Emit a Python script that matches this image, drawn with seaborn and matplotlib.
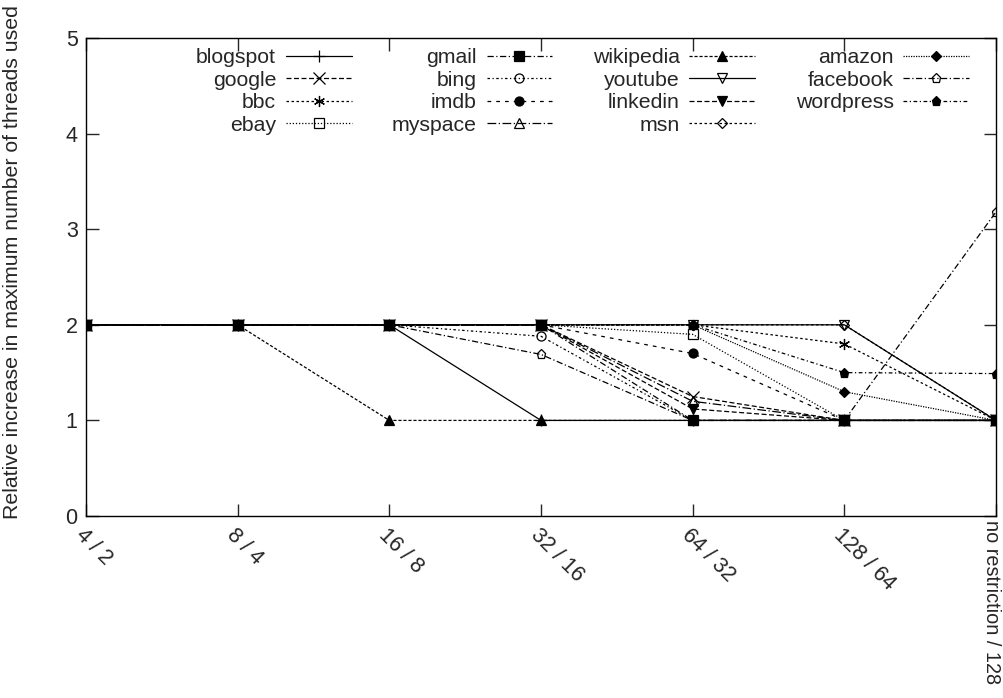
import numpy as np
import pandas as pd
import matplotlib
matplotlib.use("Agg")
import matplotlib.pyplot as plt
import matplotlib.transforms as mtransforms
import seaborn as sns

categories = ["4 / 2", "8 / 4", "16 / 8", "32 / 16", "64 / 32", "128 / 64", "no restriction / 128"]

blogspot  = [2, 2, 2, 1, 1, 1, 1]
google    = [2, 2, 2, 2, 1.25, 1, 1]
bbc       = [2, 2, 2, 2, 2, 1.8, 1]
ebay      = [2, 2, 2, 2, 1.9, 1, 1]
gmail     = [2, 2, 2, 2, 1, 1, 1]
bing      = [2, 2, 2, 1.88, 1, 1, 1]
imdb      = [2, 2, 2, 2, 1.7, 1, 1]
myspace   = [2, 2, 2, 2, 1.2, 1, 1]
wikipedia = [2, 2, 1, 1, 1, 1, 1]
youtube   = [2, 2, 2, 2, 2, 2, 1]
linkedin  = [2, 2, 2, 2, 1.12, 1, 1]
msn       = [2, 2, 2, 2, 2, 2, 1]
amazon    = [2, 2, 2, 2, 2, 1.3, 1]
facebook  = [2, 2, 2, 1.69, 1, 1, 3.18]
wordpress = [2, 2, 2, 2, 2, 1.5, 1.49]

series = [
    ("blogspot", blogspot), ("google", google), ("bbc", bbc), ("ebay", ebay),
    ("gmail", gmail), ("bing", bing), ("imdb", imdb), ("myspace", myspace),
    ("wikipedia", wikipedia), ("youtube", youtube), ("linkedin", linkedin), ("msn", msn),
    ("amazon", amazon), ("facebook", facebook), ("wordpress", wordpress),
]

# style: (dashes or None for solid, marker, filled)
styles = {
    "blogspot": (None, "+", True),
    "google": ((4, 2), "x", True),
    "bbc": ((2, 2), (6, 2, 0), True),
    "ebay": ((1, 1.5), "s", False),
    "gmail": ((5, 2, 1, 2), "s", True),
    "bing": ((2, 2, 1, 2), "o", False),
    "imdb": ((3, 4), "o", True),
    "myspace": ((7, 2, 1, 2), "^", False),
    "wikipedia": ((2.5, 1.5), "^", True),
    "youtube": (None, "v", False),
    "linkedin": ((4, 2), "v", True),
    "msn": ((2, 2), "D", False),
    "amazon": ((1, 1), "D", True),
    "facebook": ((5, 2, 1, 2), "p", False),
    "wordpress": ((3, 2, 1, 2), "p", True),
}

sns.set_style("ticks")
plt.rcParams["font.family"] = ["Liberation Sans", "DejaVu Sans"]
plt.rcParams["font.size"] = 15

fig = plt.figure(figsize=(10.04, 6.98), dpi=100)
ax = fig.add_axes([0.0857, 0.2607, 0.9063, 0.6849])

xpos = np.arange(len(categories))
for name, vals in series:
    dashes, marker, filled = styles[name]
    df = pd.DataFrame({"x": xpos, "y": vals})
    kw = dict(color="black", lw=0.9, marker=marker,
              markersize=6.5 if marker not in ("D",) else 5.5,
              markeredgecolor="black", markeredgewidth=0.9,
              markerfacecolor="black" if filled else "none")
    if marker in ("+", "x"):
        kw["markersize"] = 8
    if isinstance(marker, tuple):
        kw["markersize"] = 8
    if dashes is None:
        kw["linestyle"] = "-"
    else:
        kw["dashes"] = dashes
    sns.lineplot(data=df, x="x", y="y", ax=ax, label=name, **kw)

ax.set_xlim(0, 6)
ax.set_ylim(0, 5)
ax.set_xticks(xpos)
ax.set_xticklabels(categories)
ax.set_yticks([0, 1, 2, 3, 4, 5])
ax.set_xlabel("")
ax.set_ylabel("Relative increase in maximum number of threads used", fontsize=15.3)
ax.yaxis.set_label_coords(-0.0703, 0.531)
ax.tick_params(direction="in", length=9, width=1, top=True, right=True, labelsize=15.5, pad=6)
for i, lab in enumerate(ax.get_xticklabels()):
    lab.set_rotation_mode("anchor")
    if i == len(categories) - 1:
        lab.set_rotation(-90)
        lab.set_ha("left")
        lab.set_va("center")
        lab.set_fontsize(14.3)
        lab.set_transform(lab.get_transform() +
                          mtransforms.ScaledTranslation(-3 / 72, 3 / 72, fig.dpi_scale_trans))
    else:
        lab.set_rotation(-45)
        lab.set_ha("left")
        lab.set_va("top")
for sp in ax.spines.values():
    sp.set_visible(True)
    sp.set_linewidth(1)
    sp.set_color("black")

ax.legend(loc="upper left", bbox_to_anchor=(0.121, 0.978), ncol=4, frameon=False,
          markerfirst=False, fontsize=15.3, handlelength=3.1, handletextpad=0.45,
          labelspacing=0.16, columnspacing=1.9, borderpad=0, borderaxespad=0)

fig.savefig("out.png", dpi=100)
